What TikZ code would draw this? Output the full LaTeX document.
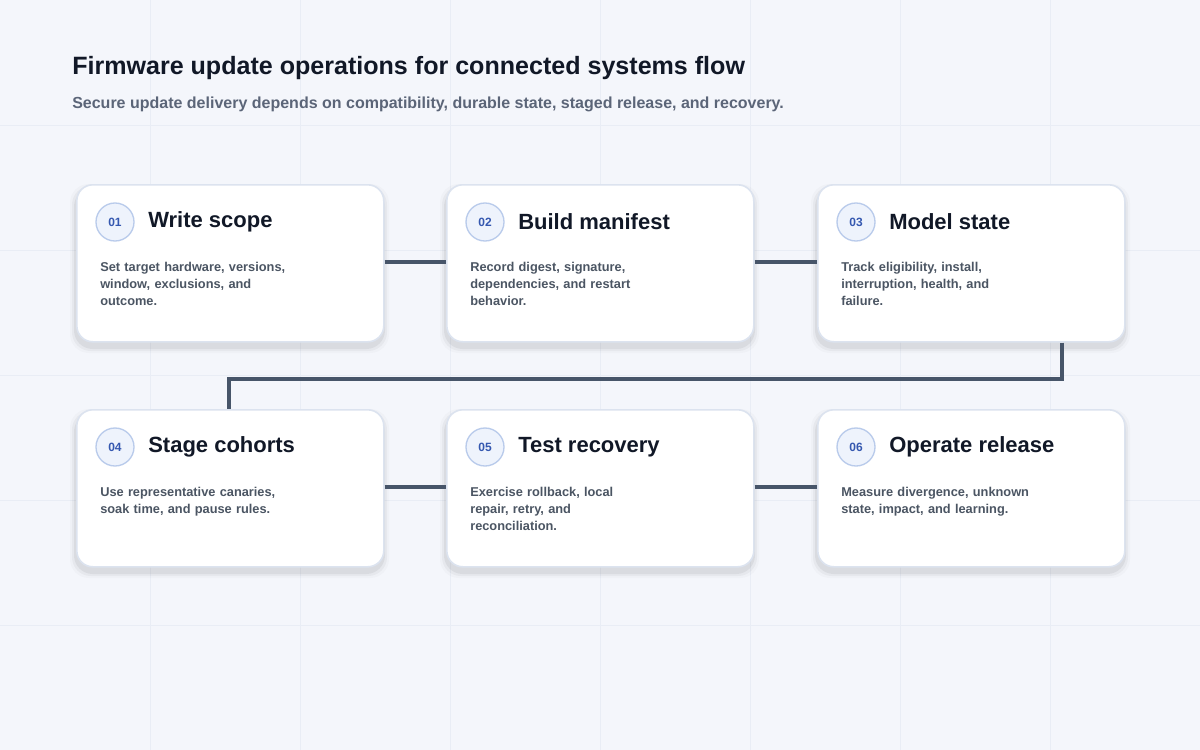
\documentclass[tikz,border=0pt]{standalone}
\usepackage{fontspec}
\setmainfont{Liberation Sans}
\definecolor{bg}{HTML}{F4F6FB}
\definecolor{grid}{HTML}{E9EDF5}
\definecolor{ink}{HTML}{111827}
\definecolor{sub}{HTML}{5B6578}
\definecolor{body}{HTML}{4B5563}
\definecolor{line}{HTML}{475569}
\definecolor{cardedge}{HTML}{DCE3EF}
\definecolor{badgefill}{HTML}{EEF3FC}
\definecolor{badgeedge}{HTML}{B9CBEB}
\definecolor{badgetext}{HTML}{3558B0}
\begin{document}
\begin{tikzpicture}[x=0.75pt,y=-0.75pt,
  card/.style={draw=cardedge,line width=1.2pt,fill=white,rounded corners=12pt,minimum width=307*0.75pt,minimum height=157*0.75pt,anchor=north west,inner sep=0pt},
  badge/.style={circle,draw=badgeedge,line width=1pt,fill=badgefill,minimum size=28.5pt,inner sep=0pt,text=badgetext,font=\fontsize{9}{10}\selectfont\bfseries},
  ctitle/.style={anchor=west,text=ink,font=\fontsize{16.5}{18}\selectfont\bfseries,inner sep=0pt},
  cbody/.style={anchor=north west,text=body,align=left,text width=160pt,font=\fontsize{9.6}{12.7}\selectfont\bfseries,inner sep=0pt},
  conn/.style={draw=line,line width=2.4pt}]
\useasboundingbox (0,0) rectangle (1200,750);
\fill[bg] (0,0) rectangle (1200,750);
\foreach \x in {150,300,450,600,750,900,1050} \draw[grid,line width=0.5pt] (\x,0)--(\x,750);
\foreach \y in {125,250,375,500,625} \draw[grid,line width=0.5pt] (0,\y)--(1200,\y);
\node[anchor=west,text=ink,font=\fontsize{18.8}{20}\selectfont\bfseries,inner sep=0pt] (title) at (72,68) {Firmware update operations for connected systems flow};
\node[anchor=west,text=sub,font=\fontsize{12}{14}\selectfont\bfseries,inner sep=0pt] (subtitle) at (72,104) {Secure update delivery depends on compatibility, durable state, staged release, and recovery.};
\foreach \n/\x/\y/\num/\t/\b in {
 c1/76/184/01/Write scope/{Set target hardware, versions,\\window, exclusions, and\\outcome.},
 c2/446/184/02/Build manifest/{Record digest, signature,\\dependencies, and restart\\behavior.},
 c3/817/184/03/Model state/{Track eligibility, install,\\interruption, health, and\\failure.},
 c4/76/409/04/Stage cohorts/{Use representative canaries,\\soak time, and pause rules.},
 c5/446/409/05/Test recovery/{Exercise rollback, local\\repair, retry, and\\reconciliation.},
 c6/817/409/06/Operate release/{Measure divergence, unknown\\state, impact, and learning.}}{
  \foreach \k/\o in {1/0.05,2/0.035,3/0.02}
    \fill[black,opacity=\o,rounded corners=14pt] (\x-\k*2,\y+6-\k*2) rectangle (\x+307+\k*2,\y+163+\k*2);
  \node[card] (\n) at (\x,\y) {};
  \node[badge] (\n b) at (\x+39,\y+38) {\num};
  \node[ctitle] (\n t) at (\x+72,\y+38) {\t};
  \node[cbody] (\n d) at (\x+24,\y+78) {\b};
}
\draw[conn] (c1.east|-0,262) coordinate (a1) -- (c2.west|-0,262) coordinate (a2);
\draw[conn] (c2.east|-0,262) -- (c3.west|-0,262);
\draw[conn] (c4.east|-0,487) -- (c5.west|-0,487);
\draw[conn] (c5.east|-0,487) -- (c6.west|-0,487);
\draw[conn] (c3.south-|1062,0) -- (1062,379) -- (229,379) -- (c4.north-|229,0);
\end{tikzpicture}
\end{document}
